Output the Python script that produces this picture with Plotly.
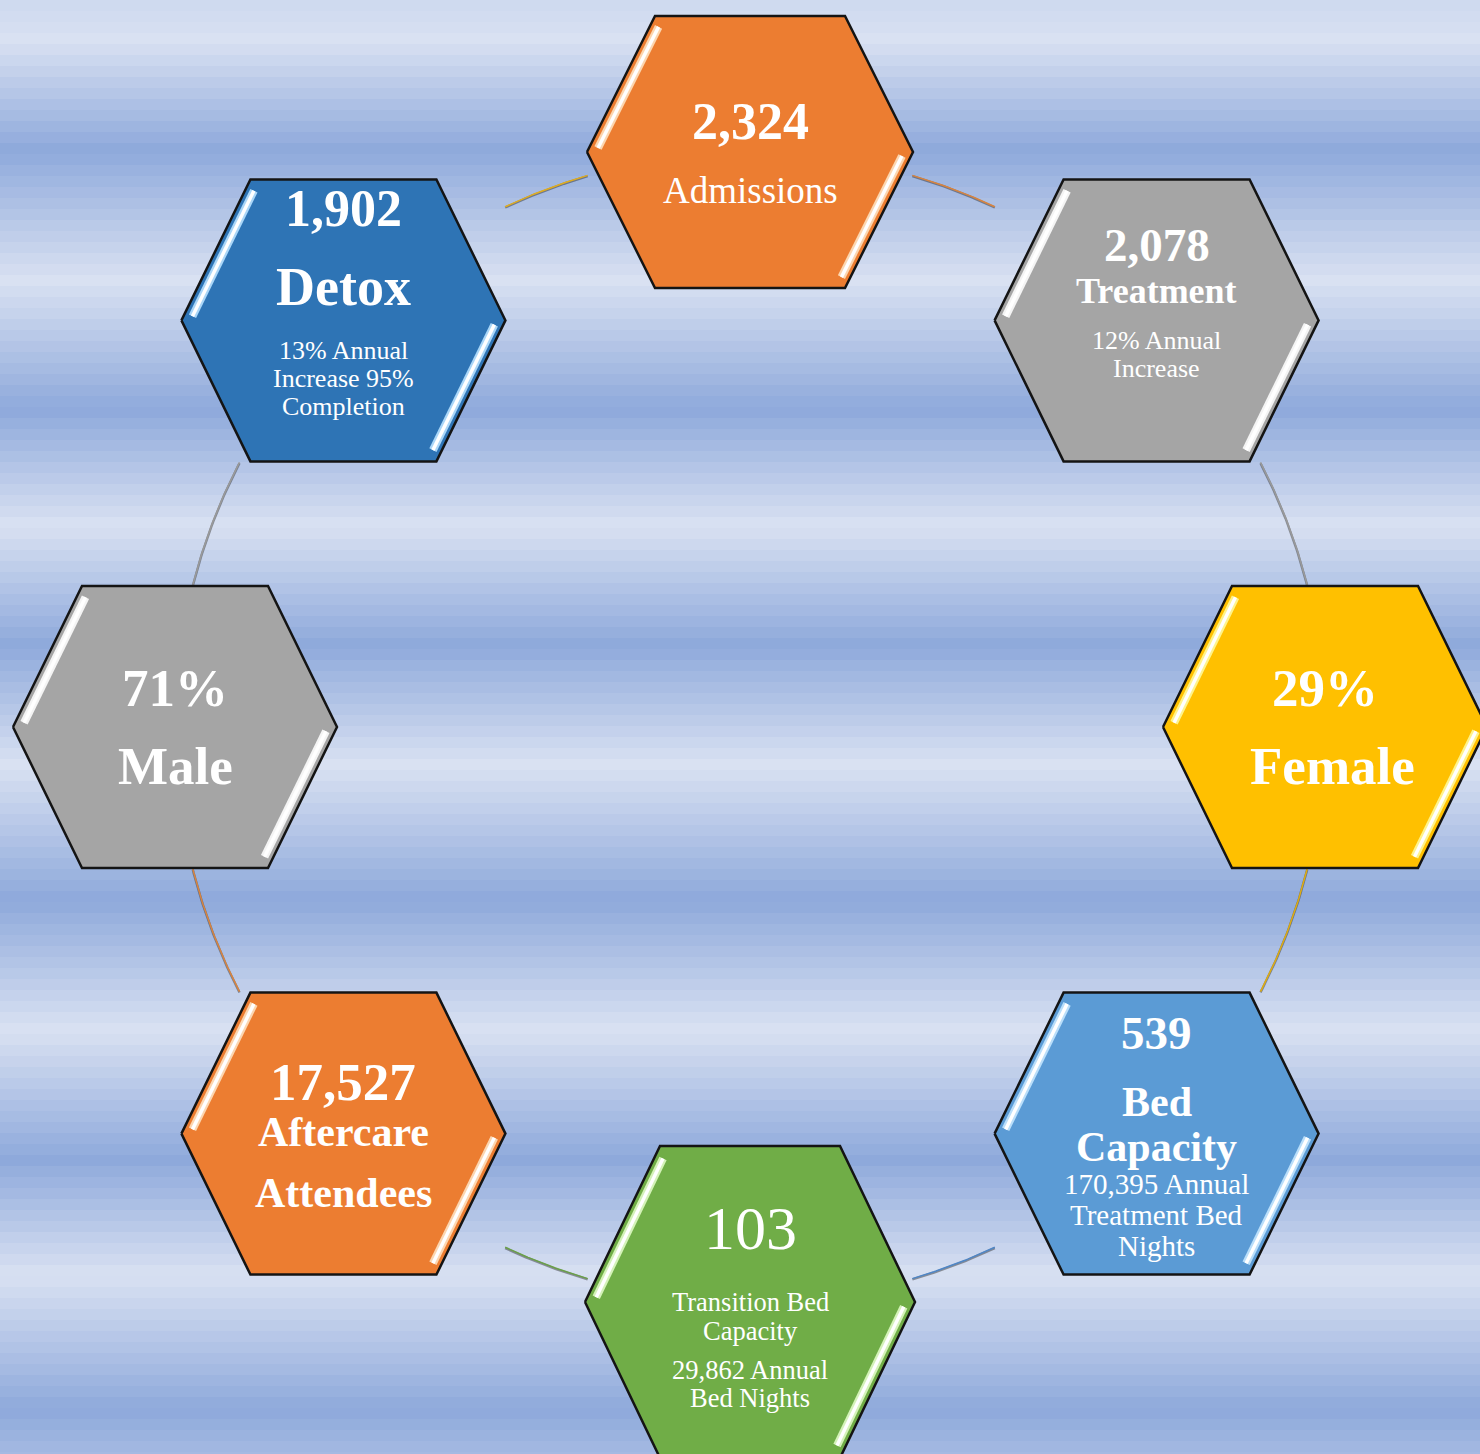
import numpy as np
import plotly.graph_objects as go

# ---------------- data ----------------
hex_names = ["Admissions", "Treatment", "Female", "Bed\nCapacity",
             "Transition Bed\nCapacity", "Aftercare\nAttendees", "Male", "Detox"]
hex_values = ["2,324", "2,078", "29%", "539", "103", "17,527", "71%", "1,902"]
hex_notes = ["", "12% Annual\nIncrease", "", "170,395 Annual\nTreatment Bed\nNights",
             "29,862 Annual\nBed Nights", "", "", "13% Annual\nIncrease 95%\nCompletion"]

# ---------------- styles / layout ----------------
hex_colors = ["#ec7d31", "#a5a5a5", "#ffc000", "#5b9bd5", "#70ad47", "#ec7d31", "#a5a5a5", "#2e74b5"]
glow_colors = ["#fcd6b0", "#f4f4f4", "#fff38a", "#b9defa", "#d4f2b8", "#fcd6b0", "#f4f4f4", "#a9d6f8"]
arc_colors = ["#d9843f", "#9a9a9a", "#e0ad10", "#4f86c6", "#6aa048", "#d9843f", "#9a9a9a", "#e0ad20"]

W, H = 1480, 1454
CX, CY, RAD = 750, 727, 575
angles = [-90, -45, 0, 45, 90, 135, 180, 225]
half_h = [136, 141, 141, 141, 156, 141, 141, 141]
half_w = [163, 162, 162, 162, 165, 162, 162, 162]
inset = [68, 69, 69, 69, 75, 69, 69, 69]
# connector arcs (start/end angle in degrees, clockwise from hexagon i to i+1)
arc_start = [-73.6, -27.4, 14.3, 64.8, 106.4, 152.6, 194.3, 244.8]
arc_end = [-64.8, -14.3, 27.4, 73.6, 115.2, 165.7, 207.4, 253.6]

# text layout per hexagon: (field, y positions, font size, bold, x shift)
text_layout = [
    [("v", [121], 52, True, 0), ("n", [190], 37, False, 0)],
    [("v", [245], 47, True, 0), ("n", [291], 36, True, 0), ("t", [340, 368], 26, False, 0)],
    [("v", [688], 53, True, 0), ("n", [766], 53, True, 7)],
    [("v", [1033], 47, True, 0), ("n", [1102, 1147], 42, True, 0), ("t", [1184, 1215, 1246], 29, False, 0)],
    [("v", [1228], 62, False, 0), ("n", [1302, 1331], 26.5, False, 0), ("t", [1370, 1398], 26.5, False, 0)],
    [("v", [1082], 53, True, 0), ("n", [1132, 1193], 42, True, 0)],
    [("v", [688], 53, True, 0), ("n", [766], 53, True, 0)],
    [("v", [208], 52, True, 0), ("n", [287], 54, True, 0), ("t", [350, 378, 406], 26, False, 0)],
]

fig = go.Figure()

# ---------------- striped background ----------------
light = np.array([217, 225, 242])
dark = np.array([142, 169, 219])
stop_y = [0, 40, 150, 280, 410, 525, 645, 765, 900, 1030, 1160, 1275, 1410, 1454]
stop_t = [0.85, 1, 0, 1, 0, 1, 0, 1, 0, 1, 0, 1, 0, 0.3]
band = 11
edges = np.arange(0, H + band, band)
mids = (edges[:-1] + edges[1:]) / 2
tvals = np.interp(mids, stop_y, stop_t)
fig.add_trace(go.Heatmap(
    z=tvals.reshape(-1, 1), x=[0, W], y=edges, zmin=0, zmax=1, zsmooth=False,
    colorscale=[[0, "rgb(%d,%d,%d)" % tuple(dark)], [1, "rgb(%d,%d,%d)" % tuple(light)]],
    showscale=False, hoverinfo="skip"))

# ---------------- connecting arcs ----------------
for i in range(8):
    th = np.radians(np.linspace(arc_start[i], arc_end[i], 40))
    xs = CX + RAD * np.cos(th)
    ys = CY + RAD * np.sin(th)
    fig.add_trace(go.Scatter(x=xs, y=ys + 0.8, mode="lines",
                             line=dict(color="rgba(40,40,40,0.45)", width=2.4),
                             hoverinfo="skip", showlegend=False))
    fig.add_trace(go.Scatter(x=xs, y=ys, mode="lines",
                             line=dict(color=arc_colors[i], width=1.5),
                             hoverinfo="skip", showlegend=False))

# ---------------- hexagons ----------------
centers = [(CX + RAD * np.cos(np.radians(a)), CY + RAD * np.sin(np.radians(a))) for a in angles]


def lerp(p, q, t):
    return (p[0] + (q[0] - p[0]) * t, p[1] + (q[1] - p[1]) * t)


for i, (cx, cy) in enumerate(centers):
    hw, hh, ins = half_w[i], half_h[i], inset[i]
    L = (cx - hw, cy)
    TL = (cx - hw + ins, cy - hh)
    TR = (cx + hw - ins, cy - hh)
    R = (cx + hw, cy)
    BR = (cx + hw - ins, cy + hh)
    BL = (cx - hw + ins, cy + hh)
    pts = [L, TL, TR, R, BR, BL, L]
    fig.add_trace(go.Scatter(x=[p[0] for p in pts], y=[p[1] for p in pts], mode="lines",
                             fill="toself", fillcolor=hex_colors[i],
                             line=dict(color="#141414", width=2.5),
                             hoverinfo="skip", showlegend=False))
    # glossy highlights
    s1 = lerp(TL, L, 0.08); e1 = lerp(TL, L, 0.97)
    s2 = lerp(R, BR, 0.03); e2 = lerp(R, BR, 0.92)
    for (s, e, dx) in [(s1, e1, 9), (s2, e2, -9)]:
        xs = [s[0] + dx, e[0] + dx]
        ys = [s[1], e[1]]
        fig.add_trace(go.Scatter(x=xs, y=ys, mode="lines",
                                 line=dict(color=glow_colors[i], width=8),
                                 hoverinfo="skip", showlegend=False))
        fig.add_trace(go.Scatter(x=xs, y=ys, mode="lines",
                                 line=dict(color="white", width=3.5),
                                 hoverinfo="skip", showlegend=False))

# ---------------- texts ----------------
annotations = []
for i, (cx, cy) in enumerate(centers):
    fields = {"v": hex_values[i], "n": hex_names[i], "t": hex_notes[i]}
    for field, ypos, size, bold, dx in text_layout[i]:
        lines = fields[field].split("\n")
        for line, y in zip(lines, ypos):
            txt = "<b>%s</b>" % line if bold else line
            annotations.append(dict(x=cx + dx, y=y, xref="x", yref="y", text=txt, showarrow=False,
                                    xanchor="center", yanchor="middle",
                                    font=dict(family="Liberation Serif", size=size, color="white")))

fig.update_layout(
    width=W, height=H, margin=dict(l=0, r=0, t=0, b=0),
    xaxis=dict(range=[0, W], visible=False, fixedrange=True),
    yaxis=dict(range=[H, 0], visible=False, fixedrange=True),
    plot_bgcolor="#d9e1f2", paper_bgcolor="#d9e1f2",
    annotations=annotations, showlegend=False)

fig.write_html("out.html", config={"displayModeBar": False},
               post_script="document.body.style.margin='0';document.body.style.overflow='hidden';")
